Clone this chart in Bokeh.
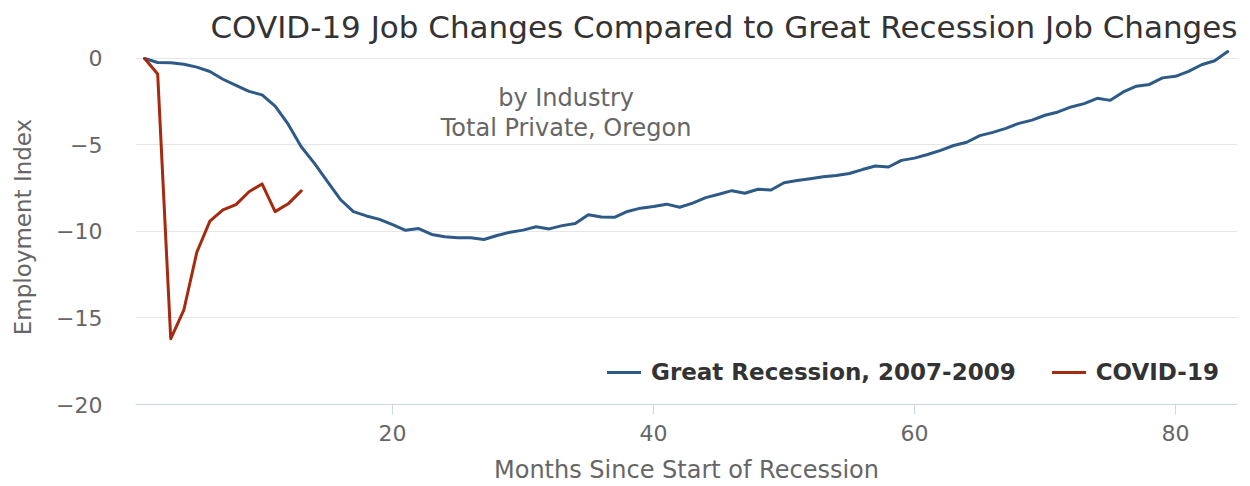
from bokeh.plotting import figure
from bokeh.models import (Range1d, FixedTicker, Legend, LegendItem, Label, Title)
from bokeh.embed import file_html
from bokeh.resources import INLINE

# ---- data ----
months_gr = list(range(1, 85))
great_recession = [
    0.0, -0.23, -0.25, -0.33, -0.5, -0.75, -1.2, -1.55, -1.9, -2.1,
    -2.75, -3.8, -5.1, -6.05, -7.1, -8.15, -8.85, -9.1, -9.3, -9.6,
    -9.93, -9.83, -10.17, -10.3, -10.36, -10.36, -10.46, -10.23, -10.04, -9.92,
    -9.73, -9.85, -9.66, -9.54, -9.03, -9.16, -9.18, -8.84, -8.65, -8.55,
    -8.42, -8.6, -8.36, -8.04, -7.85, -7.64, -7.79, -7.56, -7.6, -7.18,
    -7.05, -6.95, -6.84, -6.76, -6.65, -6.42, -6.21, -6.27, -5.89, -5.76,
    -5.55, -5.31, -5.03, -4.84, -4.46, -4.27, -4.04, -3.75, -3.56, -3.28,
    -3.09, -2.8, -2.61, -2.3, -2.42, -1.93, -1.6, -1.5, -1.12, -1.03,
    -0.74, -0.36, -0.13, 0.4,
]
months_covid = list(range(1, 14))
covid = [0.0, -0.9, -16.2, -14.55, -11.2, -9.4, -8.75, -8.45, -7.7, -7.25,
         -8.85, -8.4, -7.65]

x_ticks = [20, 40, 60, 80]
y_ticks = [-20, -15, -10, -5, 0]
y_tick_labels = ["\u221220", "\u221215", "\u221210", "\u22125", "0"]

series_names = ["Great Recession, 2007-2009", "COVID-19"]
series_colors = ["#2d5a87", "#a52a10"]

title_text = "COVID-19 Job Changes Compared to Great Recession Job Changes"
subtitle_lines = ["by Industry", "Total Private, Oregon"]
x_title = "Months Since Start of Recession"
y_title = "Employment Index"

FONT = "DejaVu Sans"

p = figure(width=1250, height=486, output_backend="svg", toolbar_location=None,
           x_range=Range1d(0.3, 84.75), y_range=Range1d(-20, 0.52),
           min_border_left=135, min_border_right=13, min_border_top=49,
           min_border_bottom=79)
p.outline_line_color = None
p.background_fill_color = "white"
p.border_fill_color = "white"

t = Title(text=title_text, align="right", offset=0, standoff=10,
          text_font=FONT, text_font_size="31px", text_font_style="normal",
          text_color="#333333")
p.title = t

# grid
p.xgrid.grid_line_color = None
p.ygrid.grid_line_color = "#e6e6e6"
p.ygrid.grid_line_width = 1

# x axis
xa = p.xaxis[0]
xa.ticker = FixedTicker(ticks=x_ticks)
xa.axis_line_color = "#ccd6eb"
xa.major_tick_line_color = "#ccd6eb"
xa.major_tick_out = 10
xa.major_tick_in = 0
xa.minor_tick_line_color = None
xa.major_label_standoff = 10
xa.major_label_text_font = FONT
xa.major_label_text_font_size = "22px"
xa.major_label_text_color = "#666666"
xa.axis_label = x_title
xa.axis_label_standoff = 12
xa.axis_label_text_font = FONT
xa.axis_label_text_font_size = "24px"
xa.axis_label_text_font_style = "normal"
xa.axis_label_text_color = "#666666"

# y axis
ya = p.yaxis[0]
ya.ticker = FixedTicker(ticks=y_ticks)
ya.major_label_overrides = {v: s for v, s in zip(y_ticks, y_tick_labels)}
ya.axis_line_color = None
ya.major_tick_line_color = None
ya.minor_tick_line_color = None
ya.major_tick_out = 0
ya.major_tick_in = 0
ya.major_label_standoff = 33
ya.major_label_text_font = FONT
ya.major_label_text_font_size = "22px"
ya.major_label_text_color = "#666666"
ya.axis_label = y_title
ya.axis_label_standoff = 17
ya.axis_label_text_font = FONT
ya.axis_label_text_font_size = "23px"
ya.axis_label_text_font_style = "normal"
ya.axis_label_text_color = "#666666"

# lines
r1 = p.line(months_gr, great_recession, line_color=series_colors[0], line_width=3,
            line_join="round", line_cap="round")
r2 = p.line(months_covid, covid, line_color=series_colors[1], line_width=3,
            line_join="round", line_cap="round")

# subtitle
sub_y = [-2.29, -4.01]
for line, yy in zip(subtitle_lines, sub_y):
    p.add_layout(Label(x=33.3, y=yy, text=line, text_align="center",
                       text_baseline="alphabetic", text_font=FONT,
                       text_font_size="24px", text_color="#666666"))

legend = Legend(items=[LegendItem(label=series_names[0], renderers=[r1]),
                       LegendItem(label=series_names[1], renderers=[r2])],
                location=(472, 19), orientation="horizontal",
                glyph_width=34, glyph_height=20, label_standoff=10, spacing=36,
                padding=0, margin=0, border_line_alpha=0, background_fill_alpha=0,
                label_text_font=FONT, label_text_font_size="23px",
                label_text_font_style="bold", label_text_color="#333333")
p.add_layout(legend, "center")

open("out.html", "w").write(file_html(p, INLINE))
